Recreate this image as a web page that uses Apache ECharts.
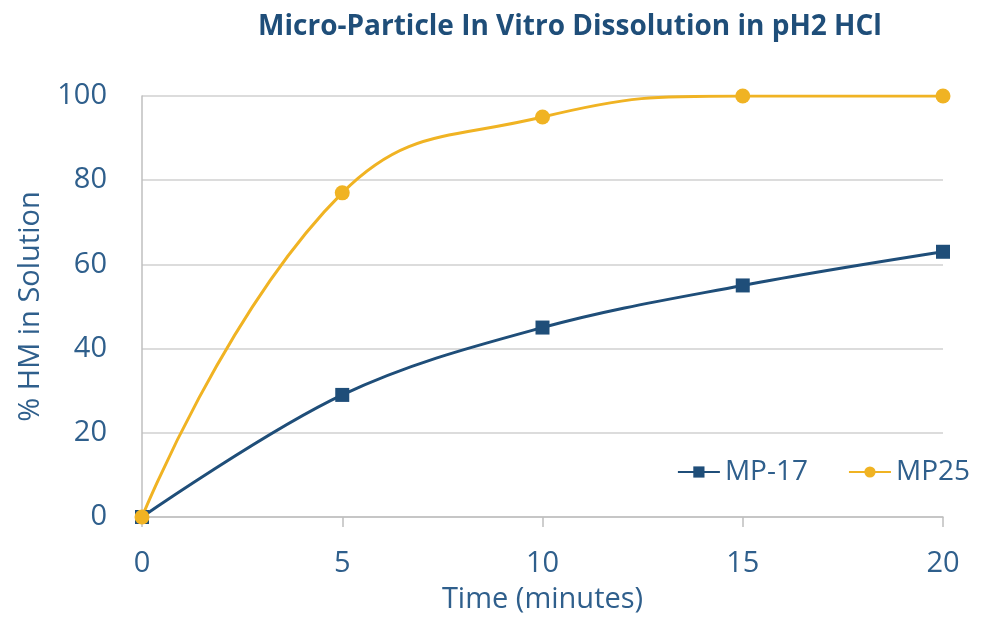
<!DOCTYPE html>
<html>
<head>
<meta charset="utf-8">
<script src="https://cdn.jsdelivr.net/npm/echarts@6/dist/echarts.min.js"></script>
<style>
  html, body { margin: 0; padding: 0; background: #fff; }
  #chart { width: 981px; height: 620px; }
</style>
</head>
<body>
<div id="chart"></div>
<script>
const timeMinutes = [0, 5, 10, 15, 20];
const mp17 = [0, 29, 45, 55, 63];
const mp25 = [0, 77, 95, 100, 100];

const blue = '#1f4e79';
const gold = '#f0b323';
const textBlue = '#2f5f8c';
const font = 'Open Sans, sans-serif';

const pairs = (xs, ys) => xs.map((x, i) => [x, ys[i]]);

const myChart = echarts.init(document.getElementById('chart'));

myChart.setOption({
    backgroundColor: '#fff',
    title: {
        text: 'Micro-Particle In Vitro Dissolution in pH2 HCl',
        left: 565,
        top: 8,
        textAlign: 'center',
        textStyle: {
            fontFamily: font,
            fontSize: 28,
            fontWeight: 'bold',
            color: blue
        }
    },
    grid: { left: 142, right: 38, top: 96, bottom: 103 },
    legend: {
        right: 6,
        top: 453,
        itemGap: 40,
        itemWidth: 42,
        itemHeight: 14,
        data: ['MP-17', 'MP25'],
        textStyle: { fontFamily: font, fontSize: 28, color: textBlue }
    },
    xAxis: {
        type: 'value',
        min: 0,
        max: 20,
        interval: 5,
        name: 'Time (minutes)',
        nameLocation: 'middle',
        nameGap: 68,
        nameTextStyle: { fontFamily: font, fontSize: 29, color: textBlue },
        axisLine: { show: true, lineStyle: { color: '#bfbfbf', width: 1.5 } },
        axisTick: { show: true, length: 10, lineStyle: { color: '#bfbfbf', width: 1.5 } },
        axisLabel: { fontFamily: font, fontSize: 29, color: textBlue, margin: 32 },
        splitLine: { show: false }
    },
    yAxis: {
        type: 'value',
        min: 0,
        max: 100,
        interval: 20,
        name: '% HM in Solution',
        nameLocation: 'middle',
        nameGap: 97,
        nameTextStyle: { fontFamily: font, fontSize: 29, color: textBlue },
        axisLine: { show: true, lineStyle: { color: '#bfbfbf', width: 1.5 } },
        axisTick: { show: false },
        axisLabel: { fontFamily: font, fontSize: 29, color: textBlue, margin: 35 },
        splitLine: { show: true, lineStyle: { color: '#d0d0d0', width: 1.5 } }
    },
    series: [
        {
            name: 'MP-17',
            type: 'line',
            data: pairs(timeMinutes, mp17),
            smooth: 0.35,
            symbol: 'rect',
            symbolSize: 14,
            lineStyle: { color: blue, width: 3 },
            itemStyle: { color: blue }
        },
        {
            name: 'MP25',
            type: 'line',
            data: pairs(timeMinutes, mp25),
            smooth: 0.45,
            symbol: 'circle',
            symbolSize: 15,
            lineStyle: { color: gold, width: 3 },
            itemStyle: { color: gold }
        }
    ]
});
</script>
</body>
</html>
